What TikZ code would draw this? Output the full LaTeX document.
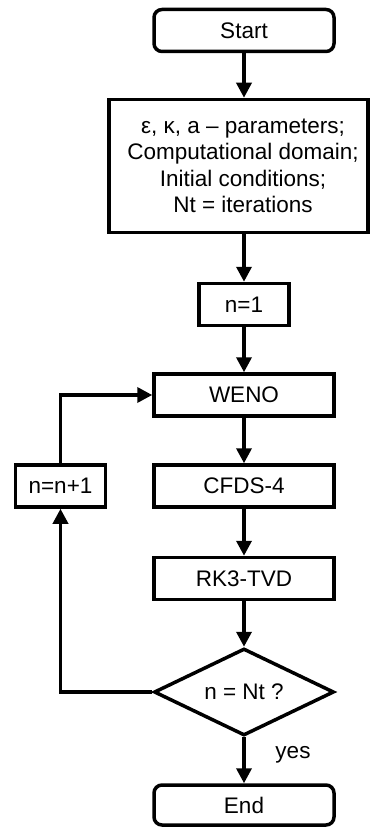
\documentclass[tikz,border=0pt]{standalone}
\usepackage{fontspec}
\setmainfont{Liberation Sans}
\usetikzlibrary{arrows.meta, positioning, shapes.geometric}

\begin{document}
\begin{tikzpicture}[
    x=1pt, y=-1pt,
    every node/.style={font=\fontsize{22.5}{26.5}\selectfont},
    box/.style={draw, line width=3.5pt, minimum width=180pt,
                minimum height=42pt, align=center, inner sep=0pt},
    term/.style={box, rounded corners=8pt},
    cond/.style={draw, diamond, line width=3.5pt, aspect=2,
                 minimum width=180pt, minimum height=87pt, inner sep=0pt},
    flow/.style={line width=3.5pt, -{Triangle[length=15pt, width=15pt]}},
    >=Stealth
  ]
  \useasboundingbox (0,0) rectangle (372,829);

  % main column
  \node[term] (start) at (244, 30.5) {Start};
  \node[box, minimum width=259pt, minimum height=133pt] (params) at (238.5, 166)
    {\hspace*{9pt}ε, κ, a -- parameters;\\ \hspace*{9pt}Computational domain;\\
     \hspace*{9pt}Initial conditions;\\ \hspace*{9pt}Nt = iterations};
  \node[box, minimum width=90pt] (init) at (244, 304.5) {n=1};
  \node[box] (weno) at (244, 395) {WENO};
  \node[box] (cfds) at (244, 486) {CFDS-4};
  \node[box] (rk) at (244, 578.5) {RK3-TVD};
  \node[cond] (check) at (244, 692) {n = Nt ?};
  \node[term, minimum height=40pt] (stop) at (244, 805) {End};

  % loop
  \node[box, minimum width=90pt] (incr) at (60.5, 486) {n=n+1};
  \node (yes) at (293, 755) {yes};

  \draw[flow] (start) -- (start |- params.north);
  \draw[flow] (init |- params.south) -- (init);
  \draw[flow] (init) -- (weno);
  \draw[flow] (weno) -- (cfds);
  \draw[flow] (cfds) -- (rk);
  \draw[flow] (rk) -- (check);
  \draw[flow] (check) -- (stop);
  \draw[flow] (check.west) -| (incr.south);
  \draw[flow] (incr.north) |- (weno.west);
\end{tikzpicture}
\end{document}
